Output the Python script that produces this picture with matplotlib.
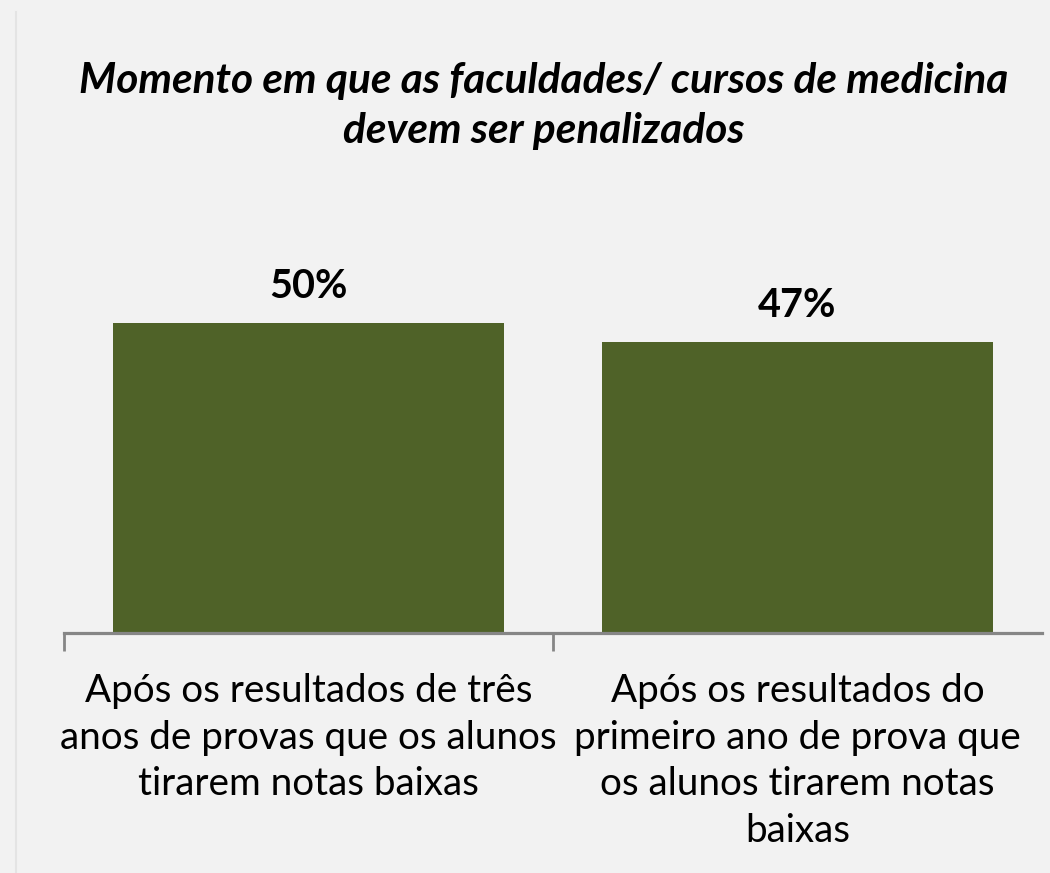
import matplotlib
matplotlib.use("Agg")
import matplotlib.pyplot as plt
from matplotlib.lines import Line2D

title = "Momento em que as faculdades/ cursos de medicina\ndevem ser penalizados"
categories = [
    "Após os resultados de três\nanos de provas que os alunos\ntirarem notas baixas",
    "Após os resultados do\nprimeiro ano de prova que\nos alunos tirarem notas\nbaixas",
]
values = [50, 47]
value_labels = ["50%", "47%"]

BG = "#f2f2f2"
BAR = "#4f6228"
AXC = "#868686"
FONT = "Lato"

fig = plt.figure(figsize=(10.5, 8.73), dpi=100, facecolor=BG)
ax = fig.add_axes([64/1050, 1-633/873, (1042-64)/1050, 372/873])
ax.set_facecolor(BG)

x = list(range(len(values)))
ax.bar(x, values, width=0.8, color=BAR, zorder=2)
ax.set_xlim(-0.5, len(values) - 0.5)
ax.set_ylim(0, 60)

for s in ["top", "right", "left"]:
    ax.spines[s].set_visible(False)
ax.spines["bottom"].set_color(AXC)
ax.spines["bottom"].set_linewidth(2.3)
ax.set_yticks([])
ax.set_xticks([i - 0.5 for i in range(len(values))])
ax.set_xticklabels([])
ax.tick_params(axis="x", length=13, width=2.0, color=AXC, direction="out")

for xi, v, lab in zip(x, values, value_labels):
    ax.annotate(lab, (xi, v), xytext=(0, 13), textcoords="offset points",
                ha="center", va="bottom", fontsize=28.5, fontweight="bold",
                family=FONT, color="black")

for xi, cat in zip(x, categories):
    ax.annotate(cat, (xi, 0), xytext=(0, -29), textcoords="offset points",
                ha="center", va="top", fontsize=27.8, family=FONT,
                color="black", linespacing=1.36, annotation_clip=False)

fig.text(544/1050, 1 - 62/873, title, ha="center", va="top", fontsize=30.5,
         fontweight="bold", fontstyle="italic", family=FONT, color="black",
         linespacing=1.4)

# faint frame line on the left
fig.add_artist(Line2D([16/1050, 16/1050], [0, 1 - 12/873], color="#e4e4e4", lw=1.5))

fig.savefig("out.png", dpi=100, facecolor=BG)
